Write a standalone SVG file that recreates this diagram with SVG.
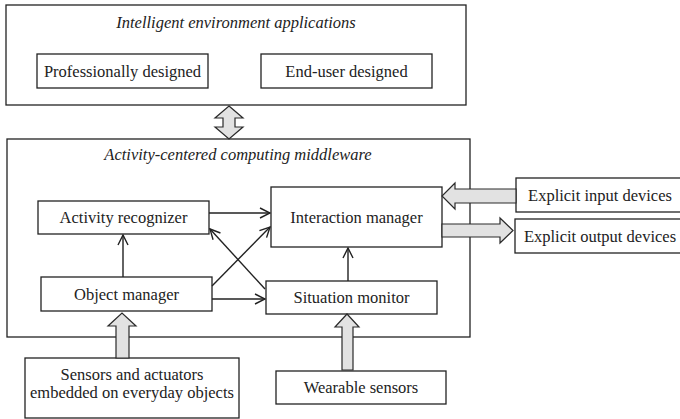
<svg xmlns="http://www.w3.org/2000/svg" width="680" height="419" viewBox="0 0 680 419">
<defs>
<style>
.box{fill:#fff;stroke:#222;stroke-width:1.3}
.t{font-family:"Liberation Serif","Times New Roman","DejaVu Serif",serif;font-size:16.5px;fill:#222;text-anchor:middle}
.it{font-style:italic}
.ln{stroke:#222;stroke-width:1.4;fill:none;marker-end:url(#v)}
.blk{fill:#e2e2e2;stroke:#2a2a2a;stroke-width:1.2;stroke-linejoin:miter}
</style>
<marker id="v" viewBox="0 0 12 12" refX="11" refY="6" markerWidth="12" markerHeight="12" markerUnits="userSpaceOnUse" orient="auto">
<path d="M1,1 L11,6 L1,11" fill="none" stroke="#222" stroke-width="1.4"/>
</marker>
</defs>
<rect width="680" height="419" fill="#fff"/>

<g id="apps">
<rect class="box" x="6" y="5" width="460" height="100"/>
<text class="t it" x="236" y="28">Intelligent environment applications</text>
</g>
<g id="prof">
<rect class="box" x="37" y="54" width="171" height="34"/>
<text class="t" x="122.5" y="77">Professionally designed</text>
</g>
<g id="enduser">
<rect class="box" x="261" y="54" width="171" height="34"/>
<text class="t" x="346.5" y="77">End-user designed</text>
</g>

<g id="middleware">
<rect class="box" x="7" y="139" width="463" height="198"/>
<text class="t it" x="238" y="160">Activity-centered computing middleware</text>
</g>
<g id="activity">
<rect class="box" x="38" y="201" width="171" height="33"/>
<text class="t" x="123.5" y="223">Activity recognizer</text>
</g>
<g id="object">
<rect class="box" x="41" y="277" width="171" height="34"/>
<text class="t" x="126.5" y="300">Object manager</text>
</g>
<g id="interaction">
<rect class="box" x="271" y="187" width="171" height="60"/>
<text class="t" x="356.5" y="223">Interaction manager</text>
</g>
<g id="situation">
<rect class="box" x="266" y="281" width="171" height="33"/>
<text class="t" x="351.5" y="303">Situation monitor</text>
</g>
<g id="input">
<rect class="box" x="516" y="178" width="166" height="34"/>
<text class="t" x="600" y="201">Explicit input devices</text>
</g>
<g id="output">
<rect class="box" x="515" y="219" width="167" height="34"/>
<text class="t" x="600" y="242">Explicit output devices</text>
</g>
<g id="sensors">
<rect class="box" x="25" y="358" width="214" height="60"/>
<text class="t" x="132" y="380">Sensors and actuators</text>
<text class="t" x="132" y="398">embedded on everyday objects</text>
</g>
<g id="wearable">
<rect class="box" x="276" y="371" width="170" height="33"/>
<text class="t" x="361" y="393">Wearable sensors</text>
</g>

<g id="connectors">
<line class="ln" x1="209" y1="213" x2="270" y2="213"/>
<line class="ln" x1="212" y1="299" x2="265" y2="299"/>
<line class="ln" x1="212" y1="286" x2="270" y2="227"/>
<line class="ln" x1="265" y1="289" x2="210" y2="229"/>
<line class="ln" x1="123" y1="277" x2="123" y2="235"/>
<line class="ln" x1="348" y1="281" x2="348" y2="248"/>
<path class="blk" d="M229,106 L243,118 L235,118 L235,127 L243,127 L229,139 L215,127 L223,127 L223,118 L215,118 Z"/>
<path class="blk" d="M516,189 L455,189 L455,183 L442,196 L455,209 L455,203 L516,203 Z"/>
<path class="blk" d="M442,224 L500,224 L500,218 L513,230.5 L500,243 L500,237 L442,237 Z"/>
<path class="blk" d="M116,358 L116,326 L108,326 L122,313 L136,326 L129,326 L129,358 Z"/>
<path class="blk" d="M342,370 L342,327 L335,327 L347,314 L359,327 L353,327 L353,370 Z"/>
</g>
</svg>
